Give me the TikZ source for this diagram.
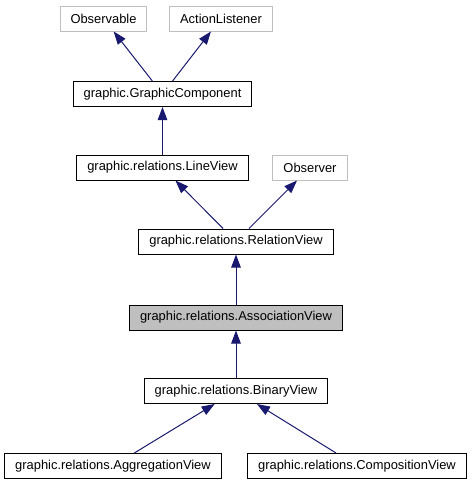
\documentclass[tikz,border=0pt]{standalone}
\usepackage{fontspec}
\setmainfont{Liberation Sans}
\usetikzlibrary{shapes.geometric, arrows.meta, positioning}
\definecolor{grey75}{HTML}{BFBFBF}
\definecolor{edgeblue}{HTML}{191970}

\begin{document}
\begin{tikzpicture}[x=1pt, y=-1pt]
    \tikzstyle{cls} = [rectangle, draw=black, fill=white, line width=1pt, text centered, inner xsep=10.5pt, inner ysep=0pt, minimum height=25pt, font=\fontsize{12.9}{15}\selectfont]
    \tikzstyle{extcls} = [cls, draw=grey75]
    \tikzstyle{curcls} = [cls, fill=grey75]
    \tikzstyle{line} = [draw, -{Triangle[length=13pt, width=9.5pt]}, edgeblue, line width=1pt]

    \useasboundingbox (0,0) rectangle (475,485);

    \node [extcls] (observable) at (103.5,18.5) {Observable};
    \node [extcls] (actionlistener) at (221,18.5) {ActionListener};
    \node [cls] (graphiccomponent) at (162.5,94) {graphic.GraphicComponent};
    \node [cls] (lineview) at (162.5,167.5) {graphic.relations.LineView};
    \node [extcls] (observer) at (310,167.5) {Observer};
    \node [cls] (relationview) at (236,241.5) {graphic.relations.RelationView};
    \node [curcls] (associationview) at (236,317.5) {graphic.relations.AssociationView};
    \node [cls] (binaryview) at (236,391) {graphic.relations.BinaryView};
    \node [cls] (aggregationview) at (113,466) {graphic.relations.AggregationView};
    \node [cls] (compositionview) at (357,466) {graphic.relations.CompositionView};

    \path [line] (graphiccomponent) -- (observable);
    \path [line] (graphiccomponent) -- (actionlistener);
    \path [line] (lineview) -- (graphiccomponent);
    \path [line] (relationview) -- (lineview);
    \path [line] (relationview) -- (observer);
    \path [line] (associationview) -- (relationview);
    \path [line] (binaryview) -- (associationview);
    \path [line] (aggregationview) -- (binaryview);
    \path [line] (compositionview) -- (binaryview);
\end{tikzpicture}
\end{document}
